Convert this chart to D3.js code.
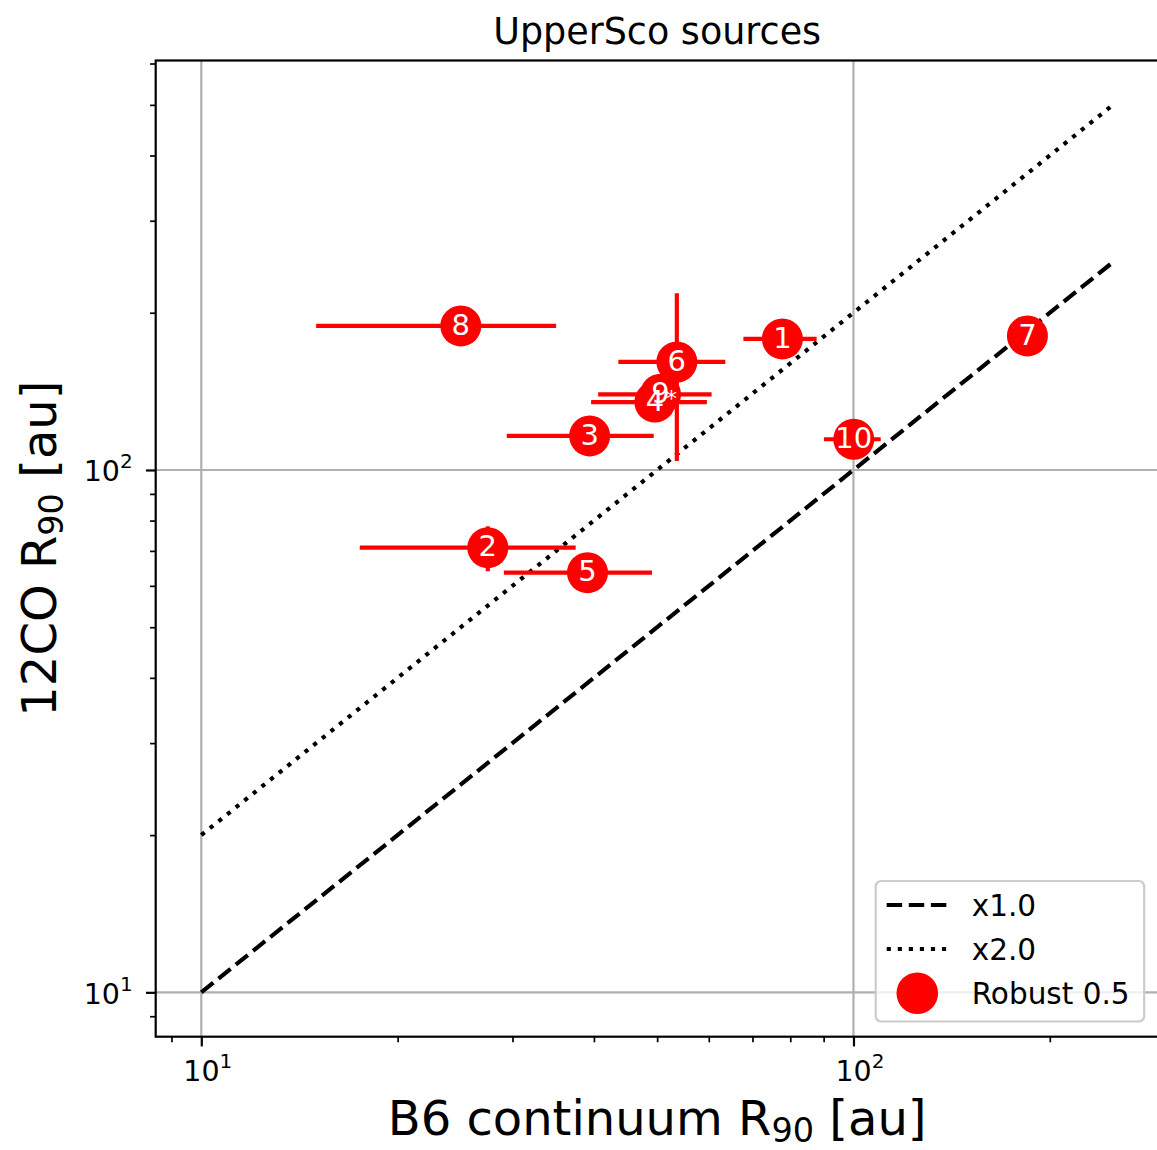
<!DOCTYPE html>
<html>
<head>
<meta charset="utf-8">
<script src="https://cdn.jsdelivr.net/npm/d3@7/dist/d3.min.js"></script>
<style>
  body { margin: 0; background: #fff; }
  svg text { font-family: "DejaVu Sans", sans-serif; }
</style>
</head>
<body>
<div id="chart"></div>
<script>
// source ids and measured radii (au)
const sourceIds = ["1", "2", "3", "4", "5", "6", "7", "8", "9", "10"];
const b6R90 = [77.8, 27.5, 39.4, 49.6, 39.1, 53.6, 184.8, 25.0, 50.6, 100.1];
const b6Err = [10, 10, 10, 10, 10, 10, 10, 10, 10, 10];
const co12R90 = [178.2, 71.0, 116.2, 134.9, 63.6, 161.0, 180.6, 188.7, 139.6, 114.5];
const co12Err = [3, 7, 3, 3, 3, 57, 3, 3, 3, 3];
const flagged = ["9"]; // drawn with an extra white star next to the label

// reference lines  R_CO = k * R_B6
const ratios = [1.0, 2.0];
const ratioLabels = ["x1.0", "x2.0"];
const lineRange = [10, 250];
const pointLabel = "Robust 0.5";

const majorTicks = [10, 100];
const minorTicks = [2, 3, 4, 5, 6, 7, 8, 9, 20, 30, 40, 50, 60, 70, 80, 90, 200, 300, 400, 500, 600, 700, 800, 900];

const width = 1157, height = 1150;
const margin = { left: 155.7, top: 60.5, right: 1158.6, bottom: 1036.7 };
const lw = 4.17; // 1.5pt
const red = "#ff0000";

const svg = d3.select("#chart").append("svg")
  .attr("width", width).attr("height", height);

// matplotlib-like 5% log margins
function logPad(lo, hi) {
  const a = Math.log10(lo), b = Math.log10(hi), m = (b - a) * 0.05;
  return [Math.pow(10, a - m), Math.pow(10, b + m)];
}
const xScale = d3.scaleLog().domain(logPad(lineRange[0], lineRange[1]))
  .range([margin.left, margin.right]);
const yScale = d3.scaleLog()
  .domain(logPad(lineRange[0] * d3.min(ratios), lineRange[1] * d3.max(ratios)))
  .range([margin.bottom, margin.top]);

const [x0, x1] = xScale.domain();
const [y0, y1] = yScale.domain();

const plot = svg.append("g");
plot.append("clipPath").attr("id", "clip").append("rect")
  .attr("x", margin.left).attr("y", margin.top)
  .attr("width", margin.right - margin.left).attr("height", margin.bottom - margin.top);

// grid
const grid = plot.append("g").attr("clip-path", "url(#clip)");
grid.selectAll(".vg").data(majorTicks.filter(d => d >= x0 && d <= x1)).enter()
  .append("line").attr("x1", d => xScale(d)).attr("x2", d => xScale(d))
  .attr("y1", margin.top).attr("y2", margin.bottom)
  .attr("stroke", "#b0b0b0").attr("stroke-width", 2.2);
grid.selectAll(".hg").data(majorTicks.filter(d => d >= y0 && d <= y1)).enter()
  .append("line").attr("y1", d => yScale(d)).attr("y2", d => yScale(d))
  .attr("x1", margin.left).attr("x2", margin.right)
  .attr("stroke", "#b0b0b0").attr("stroke-width", 2.2);

// ratio lines
const dashes = [`${3.7 * lw},${1.6 * lw}`, `${1 * lw},${1.65 * lw}`];
const line = d3.line().x(d => xScale(d[0])).y(d => yScale(d[1]));
const ratioG = plot.append("g").attr("clip-path", "url(#clip)");
ratios.forEach(function (k, i) {
  ratioG.append("path")
    .datum(lineRange.map(v => [v, v * k]))
    .attr("d", line)
    .attr("fill", "none")
    .attr("stroke", "black")
    .attr("stroke-width", lw)
    .attr("stroke-dasharray", dashes[i]);
});

// error bars + markers
const pts = plot.append("g").attr("clip-path", "url(#clip)");
sourceIds.forEach(function (id, i) {
  const cx = xScale(b6R90[i]), cy = yScale(co12R90[i]);
  pts.append("line")
    .attr("x1", xScale(b6R90[i] - b6Err[i])).attr("x2", xScale(b6R90[i] + b6Err[i]))
    .attr("y1", cy).attr("y2", cy)
    .attr("stroke", red).attr("stroke-width", lw);
  pts.append("line")
    .attr("x1", cx).attr("x2", cx)
    .attr("y1", yScale(co12R90[i] - co12Err[i])).attr("y2", yScale(co12R90[i] + co12Err[i]))
    .attr("stroke", red).attr("stroke-width", lw);
  pts.append("circle")
    .attr("cx", cx).attr("cy", cy).attr("r", 20.5)
    .attr("fill", red);
});

// labels on top
const labels = plot.append("g");
sourceIds.forEach(function (id, i) {
  const cx = xScale(b6R90[i]), cy = yScale(co12R90[i]);
  labels.append("text")
    .attr("x", cx).attr("y", cy).attr("dy", "0.3em")
    .attr("text-anchor", "middle")
    .attr("fill", "white")
    .style("font-size", "29px")
    .text(id);
  if (flagged.includes(id)) {
    labels.append("text")
      .attr("x", cx + 11).attr("y", cy).attr("dy", "0.55em")
      .attr("text-anchor", "middle")
      .attr("fill", "white")
      .style("font-size", "22px")
      .text("*");
  }
});

// spines
svg.append("rect")
  .attr("x", margin.left).attr("y", margin.top)
  .attr("width", margin.right - margin.left).attr("height", margin.bottom - margin.top)
  .attr("fill", "none").attr("stroke", "black").attr("stroke-width", 2.2);

// axes
function powLabel(sel) {
  sel.each(function (d) {
    const t = d3.select(this);
    const e = Math.round(Math.log10(d));
    t.text(null);
    t.append("tspan").text("10");
    t.append("tspan").attr("dy", -13).style("font-size", "20px").text(e);
  });
}

const xAxis = svg.append("g").attr("transform", `translate(0,${margin.bottom})`);
xAxis.call(d3.axisBottom(xScale).tickValues(minorTicks.filter(d => d >= x0 && d <= x1))
  .tickSize(5.6).tickFormat(""));
xAxis.selectAll("line").attr("stroke-width", 1.7);
const xMaj = svg.append("g").attr("transform", `translate(0,${margin.bottom})`);
xMaj.call(d3.axisBottom(xScale).tickValues(majorTicks.filter(d => d >= x0 && d <= x1))
  .tickSize(9.7));
xMaj.selectAll("line").attr("stroke-width", 2.2);
xMaj.selectAll("text").attr("y", 44.8).attr("dy", 0).attr("dx", 6)
  .attr("fill", "black").style("font-size", "28.5px").call(powLabel);

const yAxis = svg.append("g").attr("transform", `translate(${margin.left},0)`);
yAxis.call(d3.axisLeft(yScale).tickValues(minorTicks.filter(d => d >= y0 && d <= y1))
  .tickSize(5.6).tickFormat(""));
yAxis.selectAll("line").attr("stroke-width", 1.7);
const yMaj = svg.append("g").attr("transform", `translate(${margin.left},0)`);
yMaj.call(d3.axisLeft(yScale).tickValues(majorTicks.filter(d => d >= y0 && d <= y1))
  .tickSize(9.7));
yMaj.selectAll("line").attr("stroke-width", 2.2);
yMaj.selectAll("text").attr("x", -23).attr("dy", 10.7)
  .attr("fill", "black").style("font-size", "28.5px").call(powLabel);

svg.selectAll(".domain").remove();
svg.selectAll(".tick line").attr("stroke", "black");

// titles
svg.append("text")
  .attr("x", (margin.left + margin.right) / 2).attr("y", 44)
  .attr("text-anchor", "middle").style("font-size", "36.5px")
  .text("UpperSco sources");

function subLabel(t, main, sub, rest) {
  t.append("tspan").text(main);
  t.append("tspan").attr("dy", 7).style("font-size", "33.5px").text(sub);
  t.append("tspan").attr("dy", -7).text(rest);
}
subLabel(svg.append("text")
  .attr("x", (margin.left + margin.right) / 2).attr("y", 1135)
  .attr("text-anchor", "middle").style("font-size", "48px"),
  "B6 continuum R", "90", " [au]");
subLabel(svg.append("text")
  .attr("transform", `translate(56,${(margin.top + margin.bottom) / 2}) rotate(-90)`)
  .attr("text-anchor", "middle").style("font-size", "48px"),
  "12CO R", "90", " [au]");

// legend
const lg = svg.append("g").attr("transform", "translate(875.7,881)");
lg.append("rect").attr("width", 268.5).attr("height", 140.5)
  .attr("rx", 5.5).attr("fill", "white").attr("fill-opacity", 0.8)
  .attr("stroke", "#cccccc").attr("stroke-width", 2.2);
const rowY = [24, 68, 112.3];
ratioLabels.forEach(function (lab, i) {
  lg.append("line").attr("x1", 11).attr("x2", 72.6)
    .attr("y1", rowY[i]).attr("y2", rowY[i])
    .attr("stroke", "black").attr("stroke-width", lw)
    .attr("stroke-dasharray", dashes[i]);
  lg.append("text").attr("x", 96).attr("y", rowY[i]).attr("dy", "0.36em")
    .style("font-size", "29.5px").text(lab);
});
lg.append("circle").attr("cx", 41.6).attr("cy", rowY[2]).attr("r", 20.8).attr("fill", red);
lg.append("text").attr("x", 96).attr("y", rowY[2]).attr("dy", "0.36em")
  .style("font-size", "29.5px").text(pointLabel);
</script>
</body>
</html>
